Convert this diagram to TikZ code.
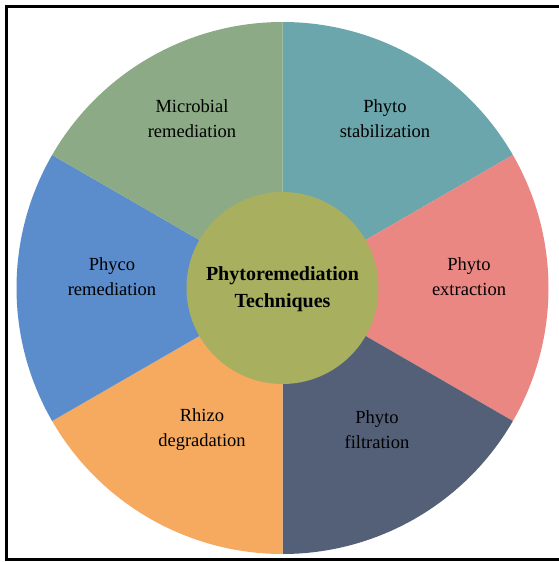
\documentclass[tikz,border=0pt]{standalone}
\usepackage{fontspec}
\setmainfont{Liberation Serif}
\definecolor{cMicro}{RGB}{139,170,133}
\definecolor{cStab}{RGB}{106,166,172}
\definecolor{cExtr}{RGB}{235,135,131}
\definecolor{cFilt}{RGB}{84,96,120}
\definecolor{cRhizo}{RGB}{246,170,96}
\definecolor{cPhyco}{RGB}{91,140,203}
\definecolor{cCenter}{RGB}{168,176,96}
\begin{document}
\begin{tikzpicture}[x=1pt,y=-1pt,
  lbl/.style={align=center,font=\fontsize{18.5}{25}\selectfont,text=black},
  ctr/.style={align=center,font=\fontsize{20}{27}\selectfont\bfseries,text=black}]
\useasboundingbox (0,0) rectangle (558,562);
\fill[white] (0,0) rectangle (558,562);
\coordinate (O) at (282.5,288);
\def\R{266}
\fill[cStab]  (O) -- ++(-90:\R) arc[start angle=-90,end angle=-30,radius=\R] -- cycle;
\fill[cExtr]  (O) -- ++(-30:\R) arc[start angle=-30,end angle=30,radius=\R] -- cycle;
\fill[cFilt]  (O) -- ++(30:\R) arc[start angle=30,end angle=90,radius=\R] -- cycle;
\fill[cRhizo] (O) -- ++(90:\R) arc[start angle=90,end angle=150,radius=\R] -- cycle;
\fill[cPhyco] (O) -- ++(150:\R) arc[start angle=150,end angle=210,radius=\R] -- cycle;
\fill[cMicro] (O) -- ++(210:\R) arc[start angle=210,end angle=270,radius=\R] -- cycle;
\node[circle,fill=cCenter,minimum size=192pt,inner sep=0pt] (center) at (O) {};
\node[ctr] (title) at (282.5,289) {Phytoremediation\\Techniques};
\node[lbl] (micro) at (192,119) {Microbial\\remediation};
\node[lbl] (stab)  at (385,119) {Phyto\\stabilization};
\node[lbl] (extr)  at (469,277) {Phyto\\extraction};
\node[lbl] (filt)  at (377,430) {Phyto\\filtration};
\node[lbl] (rhizo) at (202,430) {Rhizo\\degradation};
\node[lbl] (phyco) at (112,277) {Phyco\\remediation};
\draw[line width=3pt,black] (6,6.5) rectangle (564,559.5);
\end{tikzpicture}
\end{document}
